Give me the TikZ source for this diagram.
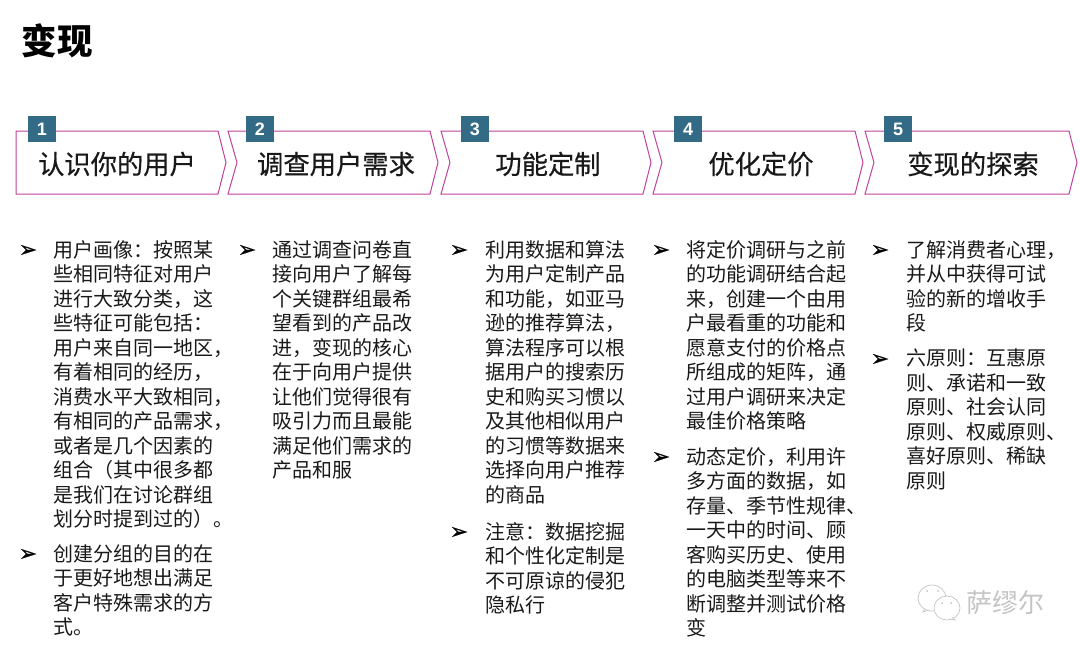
\documentclass[tikz,border=0pt]{standalone}
\usepackage{fontspec}
\setmainfont{Noto Sans CJK SC}
\newfontfamily\numfont{Liberation Sans}
\newfontfamily\bulfont[FakeBold=0.8]{DejaVu Sans}
\newfontfamily\headfont[FakeBold=0.6]{Noto Sans CJK SC}
\definecolor{chevline}{HTML}{C0409A}
\definecolor{numfill}{HTML}{336B87}
\definecolor{wmgray}{HTML}{C4C4C4}
\tikzset{
  chev/.style={draw=chevline, line width=1pt, line join=miter},
  numbox/.style={fill=numfill, text=white, minimum width=28pt, minimum height=26pt, inner sep=0pt, font=\numfont\bfseries\fontsize{18}{18}\selectfont},
  headtext/.style={inner sep=0pt, text=black!90, font=\headfont\fontsize{26.3}{26.3}\selectfont},
  bodytext/.style={anchor=north west, inner sep=0pt, align=left, text=black!90, font=\fontsize{20}{24.5}\selectfont},
  bullet/.style={inner sep=0pt, text=black, font=\bulfont\fontsize{22}{22}\selectfont},
  wmbubble/.style={draw=wmgray, fill=white, line width=0.7pt}
}
\begin{document}
\begin{tikzpicture}[x=1pt, y=-1pt]
    \useasboundingbox (0,0) rectangle (1080,651);

    % Title
    \node[inner sep=0pt, text=black, font=\bfseries\fontsize{35.5}{35.5}\selectfont] (title) at (57,40.5) {变现};

    % Chevrons
    \draw[chev] (16,131) -- (218,131) -- (226,162.5) -- (218,194) -- (16,194) -- cycle;
    \draw[chev] (228,131) -- (430,131) -- (438,162.5) -- (430,194) -- (228,194) -- (237,162.5) -- cycle;
    \draw[chev] (441,131) -- (643,131) -- (651,162.5) -- (643,194) -- (441,194) -- (450,162.5) -- cycle;
    \draw[chev] (653,131) -- (855,131) -- (863,162.5) -- (855,194) -- (653,194) -- (662,162.5) -- cycle;
    \draw[chev] (865,131) -- (1069,131) -- (1077,162.5) -- (1069,194) -- (865,194) -- (874,162.5) -- cycle;

    % Step numbers
    \node[numbox] (numA) at (42,129) {1};
    \node[numbox] (numB) at (260,129) {2};
    \node[numbox] (numC) at (475,129) {3};
    \node[numbox] (numD) at (688,129) {4};
    \node[numbox] (numE) at (898,129) {5};

    % Step names
    \node[headtext] (headA) at (117,164) {认识你的用户};
    \node[headtext] (headB) at (336,164) {调查用户需求};
    \node[headtext] (headC) at (548,164) {功能定制};
    \node[headtext] (headD) at (761,164) {优化定价};
    \node[headtext] (headE) at (973,164) {变现的探索};

    % Column 1
    \node[bullet] (bulA) at (28,251) {➢};
    \node[bodytext] (bodyA) at (53,240) {用户画像：按照某\\些相同特征对用户\\进行大致分类，这\\些特征可能包括：\\用户来自同一地区，\\有着相同的经历，\\消费水平大致相同，\\有相同的产品需求，\\或者是几个因素的\\组合（其中很多都\\是我们在讨论群组\\划分时提到过的）。};
    \node[bullet] (bulB) at (28,555) {➢};
    \node[bodytext] (bodyB) at (53,544) {创建分组的目的在\\于更好地想出满足\\客户特殊需求的方\\式。};

    % Column 2
    \node[bullet] (bulC) at (247,251) {➢};
    \node[bodytext] (bodyC) at (272,240) {通过调查问卷直\\接向用户了解每\\个关键群组最希\\望看到的产品改\\进，变现的核心\\在于向用户提供\\让他们觉得很有\\吸引力而且最能\\满足他们需求的\\产品和服};

    % Column 3
    \node[bullet] (bulD) at (459,251) {➢};
    \node[bodytext] (bodyD) at (485,240) {利用数据和算法\\为用户定制产品\\和功能，如亚马\\逊的推荐算法，\\算法程序可以根\\据用户的搜索历\\史和购买习惯以\\及其他相似用户\\的习惯等数据来\\选择向用户推荐\\的商品};
    \node[bullet] (bulE) at (459,533) {➢};
    \node[bodytext] (bodyE) at (485,522) {注意：数据挖掘\\和个性化定制是\\不可原谅的侵犯\\隐私行};

    % Column 4
    \node[bullet] (bulF) at (661,251) {➢};
    \node[bodytext] (bodyF) at (686,240) {将定价调研与之前\\的功能调研结合起\\来，创建一个由用\\户最看重的功能和\\愿意支付的价格点\\所组成的矩阵，通\\过用户调研来决定\\最佳价格策略};
    \node[bullet] (bulG) at (661,458) {➢};
    \node[bodytext] (bodyG) at (686,447) {动态定价，利用许\\多方面的数据，如\\存量、季节性规律、\\一天中的时间、顾\\客购买历史、使用\\的电脑类型等来不\\断调整并测试价格\\变};

    % Column 5
    \node[bullet] (bulH) at (880,251) {➢};
    \node[bodytext] (bodyH) at (906,240) {了解消费者心理，\\并从中获得可试\\验的新的增收手\\段};
    \node[bullet] (bulI) at (880,360) {➢};
    \node[bodytext] (bodyI) at (906,349) {六原则：互惠原\\则、承诺和一致\\原则、社会认同\\原则、权威原则、\\喜好原则、稀缺\\原则};

    % Watermark
    \draw[wmbubble] (931,609) -- (923,612) -- (926,605);
    \draw[wmbubble] (932,598) ellipse (14 and 13);
    \draw[wmbubble] (947,608) ellipse (13 and 12);
    \draw[wmbubble] (952,617) -- (955,620) -- (950,619);
    \fill[wmgray] (927,591) circle (1) (938,591) circle (1) (942,603) circle (1) (951,603) circle (1);
    \node[inner sep=0pt, text=wmgray, font=\fontsize{26}{26}\selectfont] (wmark) at (1005,603) {萨缪尔};
\end{tikzpicture}
\end{document}
